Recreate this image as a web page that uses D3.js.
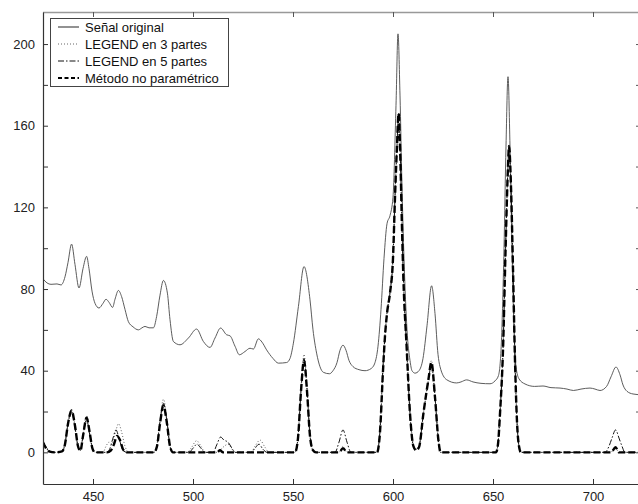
<!DOCTYPE html>
<html>
<head>
<meta charset="utf-8">
<script src="https://cdn.jsdelivr.net/npm/d3@7"></script>
<style>
  html, body { margin: 0; padding: 0; background: #fff; overflow: hidden; }
  svg { display: block; font-family: "Liberation Sans", Arial, sans-serif; }
</style>
</head>
<body>
<svg id="chart" width="638" height="504"></svg>
<script>
// datos: [longitud de onda, intensidad]
const senalOriginal = [
  [425,85],[427,83],[429,82.3],[432,82.5],[434,82],[436,86],[437.5,93],[439.3,102],[441,92],[443,80.5],
  [445,90],[446.8,96],[448,90],[449.5,79],[451,73],[453,70.7],[455,73],[456.5,75],[458,73.5],[459.8,71],
  [461,75],[462.7,79.3],[464.3,76.3],[466,70],[467.7,64],[470,61.5],[472.7,60],[474.5,61],[476,61.7],[478,61],
  [480.2,61],[481.8,66.5],[483.5,77],[485.2,84.2],[487.2,78],[488.5,65],[490.2,54.3],[493.5,52.7],[497.7,56],[501.8,60.4],
  [505.2,54.3],[508.5,51.4],[511,56],[513.8,60.9],[516.8,57.6],[518.5,57.1],[521,52],[523.2,47.8],[526,49.4],[528.5,51],
  [530.2,50.6],[532.7,55.6],[534.5,54],[536.8,50.2],[540,46],[542.7,43.7],[546.8,44],[548.5,46],[550.2,53.5],[552.7,71.4],
  [555.5,91],[558.5,74.7],[560,60],[561.8,48.6],[565.2,39.2],[568.2,38.5],[570,40],[572,44],[573.5,50],[575,52.5],
  [576.5,50],[578,45],[580,42],[583,40.5],[586,40],[589,41],[591,44],[592.5,52],[594,70],[595.5,95],
  [597,112],[598.5,116],[600,125],[601.5,170],[602.5,205],[603.5,175],[604.5,130],[605.5,95],[607,60],[608.5,45],
  [609.5,40],[611,38.8],[613,40],[615,46],[617,62],[619.3,81.6],[621,68],[622.5,48],[623.5,42],[626.8,35.6],
  [631.8,34],[634,34.5],[636.8,35.5],[640,34.5],[644,33.8],[648.5,33.6],[651,35],[652.7,37.5],[654,50],[655.5,100],
  [656.5,150],[657.5,184],[658.5,150],[659.5,100],[660.5,60],[661.5,42],[663,36],[666,33.5],[670.8,32.3],[675,32.5],
  [679,31.7],[683.5,31.5],[687,31],[690.2,30.3],[694,31],[698.5,31.5],[701,31],[703.5,30.3],[706.8,32.3],[709,37],
  [711.5,41.8],[713.5,38],[715,33],[717,29.9],[720,28.6],[724,28.2]
];

const legend3Partes = [
  [425,6],[426.5,3],[428,1],[431,0],[434.5,0.5],[436,5],[437.5,15],[439.3,21],[441,13],[442.5,3],
  [443.7,1],[445,9],[446.8,18],[448.3,10],[449.7,2],[451,0],[455,0],[456.5,3],[458,5],[459.5,4],
  [461,9],[462.8,14],[464.3,10],[466,3],[468,0],[480.5,0],[482,4],[483.5,16],[485.2,26],[487,16],
  [488.5,3],[490,0],[497,0],[499,2],[501.8,5.7],[504,3],[506,0],[512,0],[515,2.5],[517.5,4],
  [520,1],[522,0],[529,0],[531,3],[533.5,6],[536,2.5],[538,0],[551,0],[552.5,8],[554,32],
  [555.5,48],[557,32],[558.5,9],[560,1],[561.5,0],[573,0],[575,3],[577,0],[592,0],[593.5,10],
  [595,41],[596,58],[597,69],[598.5,80],[600,98],[601,126],[602,152],[602.8,165],[603.5,152],[604.5,112],
  [605.2,86],[606.8,53],[608.5,20],[610.2,4],[611.5,1.5],[613,3],[615.2,19],[617.7,36],[619.2,45],[621,28],
  [622.7,7],[623.8,0],[651.5,0],[652.5,5],[653.5,20],[655,51],[656.3,101],[657.5,141],[658,151],[659,131],
  [660,90],[661,45],[662,15],[663,3],[664,0],[709,0],[711,2.5],[713,0],[724,0]
];

const legend5Partes = [
  [425,5],[426.5,2.5],[428,0.5],[431,0],[434.5,0.5],[436,4],[437.5,14],[439.3,20],[441,12],[442.5,3],
  [443.7,1],[445,8],[446.8,16],[448.3,9],[449.7,2],[451,0],[457,0],[458.5,2],[460,7],[461.5,11],
  [463,7],[465,1],[467,0],[480.5,0],[482,3],[483.5,15],[485.2,24],[487,15],[488.5,3],[490,0],
  [498,0],[500,2],[502,4],[504,2],[506,0],[510,0],[512,4],[513.8,7.5],[515.5,6],[517.5,5],
  [519.5,2],[521,0],[529,0],[531,2],[533,4],[535,1.5],[537,0],[551,0],[552.5,7],[554,30],
  [555.5,46],[557,31],[558.5,8],[560,1],[561.5,0],[571,0],[573,5],[575,11],[577,5],[579,0],
  [592,0],[593.5,11],[595,42],[596,57],[597,68],[598.5,78],[600,95],[601,125],[602,150],[602.8,166],
  [603.5,150],[604.5,110],[605.2,85],[606.8,52],[608.5,19],[610.2,3],[611.5,1.5],[613,3],[615.2,19],[617.7,35],
  [619.2,43],[621,27],[622.7,6],[623.8,0],[651.5,0],[652.5,4],[653.5,19],[655,50],[656.3,100],[657.5,140],
  [658,150],[659,130],[660,90],[661,45],[662,15],[663,3],[664,0],[706,0],[708,3],[709.5,7],
  [711.3,11],[713,7],[714.5,3],[716,0],[724,0]
];

const metodoNoParametrico = [
  [425,5],[426.5,2],[428,0.5],[431,0],[434.5,0.5],[436,4],[437.5,14],[439.3,20.5],[441,13],[442.5,3],
  [443.7,0.8],[445,8],[446.8,17],[448.3,10],[449.7,2],[451,0],[457,0],[459,1],[460.5,4],[462,8],
  [463.5,6],[465,1.5],[467,0],[480.5,0],[482,3],[483.5,14],[485.2,23],[487,14],[488.5,3],[490,0],
  [512,0],[513.5,1],[515,0],[551,0],[552.5,7],[554,30],[555.5,45],[557,30],[558.5,8],[560,1],
  [561.5,0],[573,0],[575,2],[577,0],[592,0],[593.5,10],[595,40],[596,57],[597,68],[598.5,78],
  [600,95],[601,125],[602,150],[602.8,166],[603.5,150],[604.5,110],[605.2,85],[606.8,52],[608.5,19],[610.2,3],
  [611.5,1],[613,2.5],[615.2,19],[617.7,35.6],[619.2,44],[621,27],[622.7,6],[623.8,0],[651.5,0],[652.5,4],
  [653.5,19],[655,50],[656.3,100],[657.5,140],[658,150],[659,130],[660,90],[661,45],[662,15],[663,3],
  [664,0],[709,0],[711.3,2.5],[713,0],[724,0]
];

const xTicks = [450, 500, 550, 600, 650, 700];
const yTicks = [0, 20, 40, 60, 80, 100, 120, 140, 160, 180, 200];
const yLabels = [0, 40, 80, 120, 160, 200];
const legendNames = ["Señal original", "LEGEND en 3 partes", "LEGEND en 5 partes", "Método no paramétrico"];

const W = 638, H = 504;
const margin = { left: 43, right: -3, top: 12, bottom: 20 };

const svg = d3.select("#chart");

const x = d3.scaleLinear().domain([425, 724]).range([margin.left, W - margin.right]);
const y = d3.scaleLinear().domain([-15.5, 215.7]).range([H - margin.bottom, margin.top]);

svg.append("defs").append("clipPath").attr("id", "clip")
  .append("rect")
    .attr("x", margin.left).attr("y", margin.top)
    .attr("width", x.range()[1] - margin.left)
    .attr("height", y.range()[0] - margin.top);

// estilos de cada serie
const series = [
  { data: senalOriginal,       stroke: "#4a4a4a", width: 0.9, dash: null },
  { data: legend3Partes,       stroke: "#666",    width: 1,   dash: "1,2" },
  { data: legend5Partes,       stroke: "#111",    width: 1,   dash: "6,2,1.5,2" },
  { data: metodoNoParametrico, stroke: "#000",    width: 2.4, dash: "7,3" }
];

const line = d3.line()
  .x(d => x(d[0]))
  .y(d => y(d[1]))
  .curve(d3.curveMonotoneX);

const plot = svg.append("g").attr("clip-path", "url(#clip)");
series.forEach(s => {
  plot.append("path")
    .datum(s.data)
    .attr("fill", "none")
    .attr("stroke", s.stroke)
    .attr("stroke-width", s.width)
    .attr("stroke-dasharray", s.dash)
    .attr("stroke-linejoin", "round")
    .attr("d", line);
});

// marco
const x0 = x.range()[0], x1 = x.range()[1];
const yb = y.range()[0], yt = y.range()[1];
svg.append("line").attr("x1", x0).attr("x2", x1).attr("y1", yt + 0.5).attr("y2", yt + 0.5)
  .attr("stroke", "#999").attr("stroke-width", 1.5);
svg.append("line").attr("x1", x1).attr("x2", x1).attr("y1", yt).attr("y2", yb)
  .attr("stroke", "#999");

// ejes con d3.axis, ticks hacia dentro
const xAxis = svg.append("g").attr("transform", `translate(0,${yb})`)
  .call(d3.axisBottom(x).tickValues(xTicks).tickSizeInner(-5).tickSizeOuter(0).tickPadding(8));
const yAxis = svg.append("g").attr("transform", `translate(${x0},0)`)
  .call(d3.axisLeft(y).tickValues(yTicks).tickSizeInner(-5).tickSizeOuter(0).tickPadding(8)
    .tickFormat(d => yLabels.includes(d) ? d : ""));
const xTop = svg.append("g").attr("transform", `translate(0,${yt})`)
  .call(d3.axisTop(x).tickValues(xTicks).tickSizeInner(-5).tickSizeOuter(0).tickFormat(""));
const yRight = svg.append("g").attr("transform", `translate(${x1},0)`)
  .call(d3.axisRight(y).tickValues(yTicks).tickSizeInner(-5).tickSizeOuter(0).tickFormat(""));

[xAxis, yAxis].forEach(g => {
  g.select(".domain").attr("stroke", "#333").attr("stroke-width", 1.2);
  g.selectAll(".tick line").attr("stroke", "#333");
  g.selectAll("text").attr("fill", "#222").style("font-size", "13px")
    .style("font-family", "'Liberation Sans', Arial, sans-serif");
});
[xTop, yRight].forEach(g => {
  g.select(".domain").remove();
  g.selectAll(".tick line").attr("stroke", "#555");
});

// leyenda
const leg = svg.append("g");
leg.append("rect")
  .attr("x", 50.5).attr("y", 18.5).attr("width", 178).attr("height", 68)
  .attr("fill", "#fff").attr("stroke", "#444").attr("stroke-width", 1);
legendNames.forEach((name, i) => {
  const cy = 27 + i * 17;
  const s = series[i];
  leg.append("line")
    .attr("x1", 58).attr("x2", 79).attr("y1", cy).attr("y2", cy)
    .attr("stroke", s.stroke)
    .attr("stroke-width", i === 3 ? 2 : (i === 0 ? 1.2 : 1))
    .attr("stroke-dasharray", i === 3 ? "4,2.5" : s.dash);
  leg.append("text")
    .attr("x", 85).attr("y", cy).attr("dy", "0.35em")
    .attr("fill", "#111")
    .style("font-size", "13px")
    .text(name);
});
</script>
</body>
</html>
